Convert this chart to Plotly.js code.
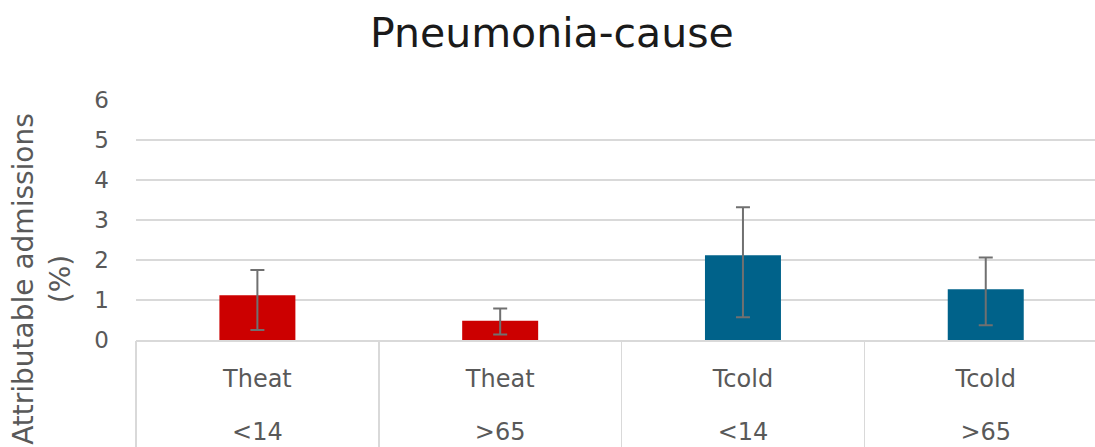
<!DOCTYPE html>
<html>
<head>
<meta charset="utf-8">
<script src="https://cdn.plot.ly/plotly-3.0.1.min.js"></script>
<style>html,body{margin:0;padding:0;background:#fff;}#chart{width:1095px;height:447px;}</style>
</head>
<body>
<div id="chart"></div>
<script>
// ---- data ----
const temps = ["Theat", "Theat", "Tcold", "Tcold"];
const ages = ["<14", ">65", "<14", ">65"];
const values = [1.12, 0.48, 2.12, 1.27];
const ciUpper = [1.75, 0.79, 3.32, 2.06];
const ciLower = [0.25, 0.14, 0.57, 0.37];
const colors = ["#cc0000", "#cc0000", "#00628a", "#00628a"];
const yTicks = [0, 1, 2, 3, 4, 5, 6];

const ids = temps.map((t, i) => t + " " + ages[i]);
const esc = s => s.replace(/</g, "&lt;").replace(/>/g, "&gt;");
const errPlus = values.map((v, i) => ciUpper[i] - v);
const errMinus = values.map((v, i) => v - ciLower[i]);
const idx = ids.map((_, i) => i);
const bounds = idx.map(i => i - 0.5);

const FONT = "DejaVu Sans";
const GRID = "#d9d9d9";
const xr = [-0.5, 3.45];

const traces = [
  {
    type: "bar",
    x: ids,
    y: values,
    marker: { color: colors, line: { width: 0 } },
    error_y: {
      type: "data",
      symmetric: false,
      array: errPlus,
      arrayminus: errMinus,
      color: "#707070",
      thickness: 2,
      width: 7
    },
    hoverinfo: "x+y",
    showlegend: false
  },
  { type: "scatter", x: [null], y: [null], xaxis: "x2", yaxis: "y", showlegend: false, hoverinfo: "skip" },
  { type: "scatter", x: [null], y: [null], xaxis: "x3", yaxis: "y", showlegend: false, hoverinfo: "skip" }
];

const layout = {
  width: 1095,
  height: 447,
  paper_bgcolor: "#ffffff",
  plot_bgcolor: "#ffffff",
  margin: { l: 136, r: 0, t: 100, b: 107, pad: 0 },
  bargap: 0.687,
  font: { family: FONT, color: "#595959", size: 24 },
  title: {
    text: "Pneumonia-cause",
    font: { family: FONT, size: 41, color: "#1a1a1a" },
    x: 0.504,
    xanchor: "center",
    xref: "container",
    y: 0.928,
    yanchor: "middle",
    yref: "container"
  },
  xaxis: {
    type: "category",
    categoryorder: "array",
    categoryarray: ids,
    range: xr,
    tickvals: ids,
    ticktext: temps,
    ticks: "",
    showgrid: false,
    zeroline: false,
    showline: true,
    linecolor: GRID,
    linewidth: 1.5,
    tickfont: { family: FONT, size: 24, color: "#595959" },
    ticklabelstandoff: 17,
    fixedrange: true
  },
  xaxis2: {
    type: "linear",
    overlaying: "x",
    anchor: "y",
    side: "bottom",
    range: xr,
    tickvals: bounds,
    showticklabels: false,
    ticks: "outside",
    ticklen: 107,
    tickwidth: 1.5,
    tickcolor: GRID,
    showgrid: false,
    zeroline: false,
    showline: false,
    fixedrange: true
  },
  xaxis3: {
    type: "linear",
    overlaying: "x",
    anchor: "y",
    side: "bottom",
    range: xr,
    tickvals: idx,
    ticktext: ages.map(esc),
    ticks: "",
    showgrid: false,
    zeroline: false,
    showline: false,
    tickfont: { family: FONT, size: 24, color: "#595959" },
    ticklabelstandoff: 75,
    fixedrange: true
  },
  yaxis: {
    range: [0, 6],
    tickvals: yTicks,
    ticktext: yTicks.map(String),
    showgrid: true,
    gridcolor: GRID,
    gridwidth: 1.5,
    zeroline: false,
    showline: false,
    ticks: "",
    tickfont: { family: FONT, size: 23, color: "#595959" },
    ticklabelstandoff: 26,
    fixedrange: true
  },
  annotations: [
    {
      text: "Attributable admissions<br>(%)",
      textangle: -90,
      xref: "paper",
      yref: "paper",
      x: -0.098,
      y: 0.255,
      xanchor: "center",
      yanchor: "middle",
      showarrow: false,
      font: { family: FONT, size: 28, color: "#595959" }
    }
  ]
};

Plotly.newPlot("chart", traces, layout, { displayModeBar: false, staticPlot: true });
</script>
</body>
</html>
